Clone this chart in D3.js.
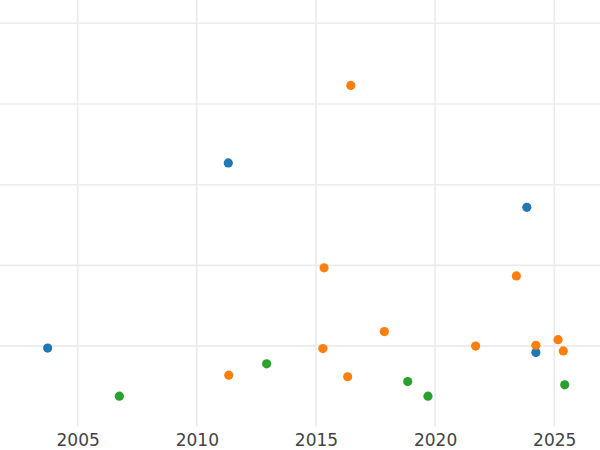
<!DOCTYPE html>
<html>
<head>
<meta charset="utf-8">
<script src="https://cdn.jsdelivr.net/npm/d3@7"></script>
<style>
  body { margin: 0; background: #fff; }
  svg { display: block; }
</style>
</head>
<body>
<svg id="chart" width="600" height="450"></svg>
<script>
const xTicks = [2005, 2010, 2015, 2020, 2025];
const yTicks = [1, 2, 3, 4, 5];
const seriesNames = ["A", "B", "C"];
const seriesColors = ["#1f77b4", "#ff7f0e", "#2ca02c"];

const blueX = [2003.74, 2011.32, 2023.85, 2024.23];
const blueY = [0.975, 3.27, 2.72, 0.92];
const orangeX = [2016.46, 2015.34, 2023.41, 2017.87, 2015.29, 2021.70, 2024.23, 2025.16, 2025.38, 2011.34, 2016.33];
const orangeY = [4.23, 1.97, 1.87, 1.18, 0.97, 1.00, 1.01, 1.08, 0.94, 0.64, 0.62];
const greenX = [2006.75, 2012.93, 2018.85, 2019.70, 2025.44];
const greenY = [0.38, 0.78, 0.56, 0.38, 0.52];

const series = [
  { name: seriesNames[0], xs: blueX, ys: blueY },
  { name: seriesNames[1], xs: orangeX, ys: orangeY },
  { name: seriesNames[2], xs: greenX, ys: greenY }
];

const W = 600, H = 450;
const plotBottom = 426.8;
const svg = d3.select("#chart");

const x = d3.scaleLinear().domain([2001.74, 2026.92]).range([0, W]);
const y = d3.scaleLinear().domain([0, 5.289]).range([plotBottom, 0]);
const color = d3.scaleOrdinal().domain(seriesNames).range(seriesColors);

const grid = svg.append("g");
grid.selectAll("line.v").data(xTicks).join("line")
  .attr("class", "v")
  .attr("x1", d => x(d)).attr("x2", d => x(d))
  .attr("y1", 0).attr("y2", plotBottom)
  .attr("stroke", "#ebebeb").attr("stroke-width", 1.6);
grid.selectAll("line.h").data(yTicks).join("line")
  .attr("class", "h")
  .attr("x1", 0).attr("x2", W)
  .attr("y1", d => y(d)).attr("y2", d => y(d))
  .attr("stroke", "#ebebeb").attr("stroke-width", 1.6);

const xAxis = svg.append("g")
  .attr("transform", `translate(0,${plotBottom})`)
  .call(d3.axisBottom(x).tickValues(xTicks).tickFormat(d3.format("d")).tickSize(0).tickPadding(7));
xAxis.select(".domain").remove();
xAxis.selectAll("text")
  .attr("font-family", "DejaVu Sans")
  .attr("font-size", 17)
  .attr("fill", "#444");

const pts = svg.append("g");
series.forEach(s => {
  pts.selectAll(null).data(s.xs.map((v, i) => [v, s.ys[i]])).join("circle")
    .attr("cx", d => x(d[0]))
    .attr("cy", d => y(d[1]))
    .attr("r", 4.6)
    .attr("fill", color(s.name));
});
</script>
</body>
</html>
